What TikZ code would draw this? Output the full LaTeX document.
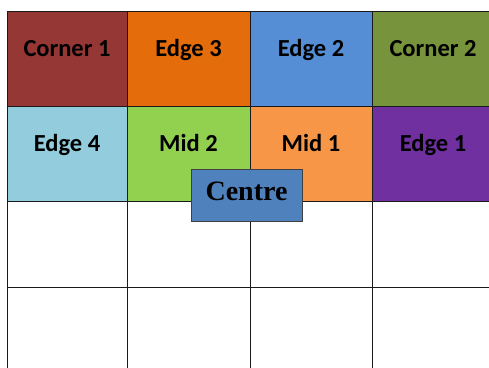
\documentclass[tikz,border=0pt]{standalone}
\usepackage{fontspec}
\setmainfont{Carlito}
\newfontfamily\ctrfont{Liberation Serif}
\usetikzlibrary{positioning}
\definecolor{cornA}{HTML}{953735}
\definecolor{cornB}{HTML}{77933C}
\definecolor{edgA}{HTML}{7030A0}
\definecolor{edgB}{HTML}{558ED5}
\definecolor{edgC}{HTML}{E46C0A}
\definecolor{edgD}{HTML}{93CDDD}
\definecolor{midA}{HTML}{F79646}
\definecolor{midB}{HTML}{92D050}
\definecolor{ctr}{HTML}{4F81BD}
\definecolor{ln}{HTML}{1A1A1A}
\tikzset{
  cell/.style={draw=ln,line width=0.8pt,inner sep=0pt,outer sep=0pt,minimum height=95pt,
    text height=16pt,text depth=20pt,font=\bfseries\fontsize{24.5}{26}\selectfont},
  ctrbox/.style={draw=black!75,line width=0.6pt,fill=ctr,inner sep=0pt,outer sep=0pt,
    minimum width=111pt,minimum height=52pt,text height=19pt,text depth=8pt,
    font=\ctrfont\bfseries\fontsize{28}{30}\selectfont},
  grid/.style={draw=ln,line width=0.8pt},
}
\begin{document}
\begin{tikzpicture}[x=1pt,y=-1pt]
\useasboundingbox (0,0) rectangle (489,367);
% top row
\node[cell,fill=cornA,minimum width=120pt,anchor=north west] (c1) at (7,11) {Corner 1};
\node[cell,fill=edgC,minimum width=123pt,right=0pt of c1] (e3) {Edge 3};
\node[cell,fill=edgB,minimum width=122pt,right=0pt of e3] (e2) {Edge 2};
\node[cell,fill=cornB,minimum width=122pt,right=0pt of e2] (c2) {Corner 2};
% second row
\node[cell,fill=edgD,minimum width=120pt,below=0pt of c1] (e4) {Edge 4};
\node[cell,fill=midB,minimum width=123pt,right=0pt of e4] (m2) {Mid 2};
\node[cell,fill=midA,minimum width=122pt,right=0pt of m2] (m1) {Mid 1};
\node[cell,fill=edgA,minimum width=122pt,right=0pt of m1] (e1) {Edge 1};
% empty rows
\coordinate (b0) at (e4.south west |- 0,372);
\coordinate (b1) at (m2.south west |- 0,372);
\coordinate (b2) at (m1.south west |- 0,372);
\coordinate (b3) at (e1.south west |- 0,372);
\coordinate (r3) at (e1.south east |- 0,287);
\draw[grid] (e4.south west) -- (b0);
\draw[grid] (m2.south west) -- (b1);
\draw[grid] (m1.south west) -- (b2);
\draw[grid] (e1.south west) -- (b3);
\draw[grid] (b0 |- r3) -- (r3);
% centre piece
\node[ctrbox] (ce) at (246.5,195) {Centre};
\end{tikzpicture}
\end{document}
